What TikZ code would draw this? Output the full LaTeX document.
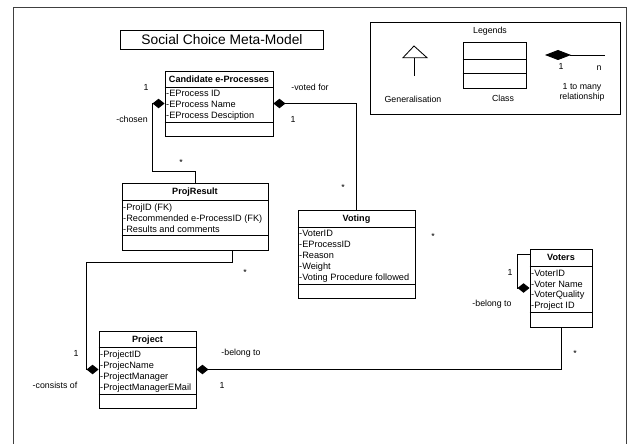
\documentclass[tikz,border=0pt]{standalone}
\usepackage{fontspec}
\setmainfont{Liberation Sans}
\usetikzlibrary{arrows.meta,calc}
\tikzset{
  cls/.style={draw, line width=0.9pt, fill=white, inner sep=0pt},
  sepline/.style={line width=0.9pt},
  hdr/.style={font=\bfseries\fontsize{9.1}{11}\selectfont, anchor=base, inner sep=0pt},
  attr/.style={font=\fontsize{9.2}{11}\selectfont, anchor=base west, inner sep=0pt},
  lbl/.style={font=\fontsize{8.8}{10}\selectfont, inner sep=0pt},
  comp/.style={{Diamond[length=12pt,width=9.5pt]}-, line width=0.85pt},
  conn/.style={line width=0.85pt},
}
% name, x1, y1, x2, y2, sep1, sep2, title
\newcommand\umlcls[8]{%
  \node[cls, minimum width={#4-#2}, minimum height={#5-#3}] (#1) at ({(#2+#4)/2},{(#3+#5)/2}) {};
  \draw[sepline] (#1.west |- 0,#6) -- (#1.east |- 0,#6);
  \draw[sepline] (#1.west |- 0,#7) -- (#1.east |- 0,#7);
  \node[hdr] (#1-h) at ({(#2+#4)/2},{(#3+#6)/2+3.3}) {#8};
}
\begin{document}
\begin{tikzpicture}[x=1pt,y=-1pt]
\useasboundingbox (0,0) rectangle (629,444);
% outer frame
\draw[line width=0.8pt, black!75] (13,444) -- (13,7.5) -- (626,7.5) -- (626,444);
% title
\node[draw, line width=0.9pt, minimum width=203pt, minimum height=18.5pt, inner sep=0pt,
      font=\fontsize{13.8}{16}\selectfont] (title) at (222,40) {Social Choice Meta-Model};
% legend
\node[draw, line width=0.9pt, minimum width=250pt, minimum height=92pt, inner sep=0pt] (legend) at (495.5,68) {};
\node[lbl] (legtitle) at (490,31) {Legends};
\draw[line width=0.85pt, fill=white] (414,46) -- (427,57.7) -- (403,57.7) -- cycle;
\draw[line width=0.85pt] (414,57.7) -- (414,76);
\node[lbl] (leggen) at (413,99) {Generalisation};
\node[cls, minimum width=63pt, minimum height=46pt] (legcls) at (494.5,65) {};
\draw[sepline] (legcls.west |- 0,59) -- (legcls.east |- 0,59);
\draw[sepline] (legcls.west |- 0,73) -- (legcls.east |- 0,73);
\node[lbl] (legclass) at (503,98) {Class};
\coordinate (legda) at (545,55);
\coordinate (legdb) at (605,55);
\draw[{Diamond[length=26pt,width=10pt]}-, line width=0.85pt] (legda) -- (legdb);
\node[lbl] (leg1) at (561,66) {1};
\node[lbl] (legn) at (599,68) {n};
\node[lbl] (legmany) at (582,87) {1 to many};
\node[lbl] (legrel) at (582,97.5) {relationship};
% classes
\umlcls{cand}{165}{71}{273}{136}{87}{122}{Candidate e-Processes}
\foreach \t [count=\i from 0] in {-EProcess ID,-EProcess Name,-EProcess Desciption}
  \node[attr] (cand-a\i) at (166,{96.8+11*\i}) {\t};
\umlcls{projres}{122}{183}{268}{250}{200}{235}{ProjResult}
\foreach \t [count=\i from 0] in {-ProjID (FK),-Recommended e-ProcessID (FK),-Results and comments}
  \node[attr] (projres-a\i) at (123,{210.3+11*\i}) {\t};
\umlcls{voting}{298}{210}{415}{298}{227}{284}{Voting}
\foreach \t [count=\i from 0] in {-VoterID,-EProcessID,-Reason,-Weight,-Voting Procedure followed}
  \node[attr] (voting-a\i) at (299,{236.5+11*\i}) {\t};
\umlcls{project}{99}{331}{196}{408}{347}{394}{Project}
\foreach \t [count=\i from 0] in {-ProjectID,-ProjecName,-ProjectManager,-ProjectManagerEMail}
  \node[attr] (project-a\i) at (100,{357.3+11*\i}) {\t};
\umlcls{voters}{530}{249}{592}{327}{266}{312}{Voters}
\foreach \t [count=\i from 0] in {-VoterID,-Voter Name,-VoterQuality,-Project ID}
  \node[attr] (voters-a\i) at (531,{276.3+10.7*\i}) {\t};
% connectors
\draw[comp] (cand.west) -- ++(-12.5,0) |- ($(projres.north)+(0,-11)$) -- (projres.north);
\draw[comp] (cand.east) -| (voting.north);
\draw[comp] (project.west) -- ++(-12.5,0) |- ($(projres.south)+(37,12)$) -- ($(projres.south)+(37,0)$);
\draw[comp] (project.east) -| (voters.south);
\draw[comp] (voters.west) -- ++(-12.5,0) -- ++(0,-34) -- ($(voters.west)+(0,-34)$);
% labels
\node[lbl] (l1) at (146,87) {1};
\node[lbl] (l2) at (132,119) {-chosen};
\node[lbl] (l3) at (181,162) {*};
\node[lbl] (l4) at (310,87) {-voted for};
\node[lbl] (l5) at (293,119) {1};
\node[lbl] (l6) at (343,187) {*};
\node[lbl] (l7) at (433,236) {*};
\node[lbl] (l8) at (245,272) {*};
\node[lbl] (l9) at (510,272) {1};
\node[lbl] (l10) at (492,304) {-belong to};
\node[lbl] (l11) at (76,353) {1};
\node[lbl] (l12) at (55,385) {-consists of};
\node[lbl] (l13) at (241,353) {-belong to};
\node[lbl] (l14) at (222,385) {1};
\node[lbl] (l15) at (575,353) {*};
\end{tikzpicture}
\end{document}
